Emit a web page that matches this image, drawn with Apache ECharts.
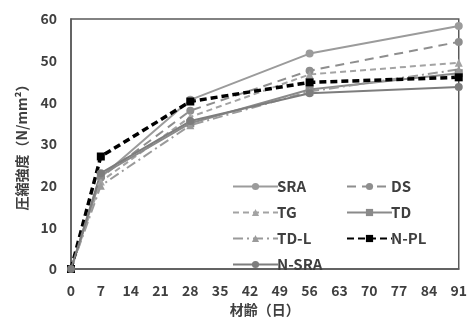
<!DOCTYPE html>
<html>
<head>
<meta charset="utf-8">
<script src="https://cdn.jsdelivr.net/npm/echarts@6/dist/echarts.min.js"></script>
<style>
  html, body { margin: 0; padding: 0; background: #fff; }
  #chart { width: 470px; height: 322px; }
</style>
</head>
<body>
<div id="chart"></div>
<script>
// 材齢（日）
const ages = [0, 7, 28, 56, 91];
const xTicks = [0, 7, 14, 21, 28, 35, 42, 49, 56, 63, 70, 77, 84, 91];

// 圧縮強度 (N/mm²)
const sra = [0, 22.0, 40.6, 51.7, 58.3];
const ds = [0, 22.0, 38.0, 47.6, 54.5];
const tg = [0, 21.0, 36.5, 46.7, 49.5];
const td = [0, 22.5, 35.0, 43.1, 47.0];
const tdl = [0, 20.0, 34.5, 42.6, 47.9];
const npl = [0, 27.0, 40.2, 44.8, 46.0];
const nsra = [0, 23.0, 35.5, 42.2, 43.7];

const FONT = '"Noto Sans CJK JP", "Noto Sans", sans-serif';
const TEXT = "#3f3f3f";
const AXIS = "#5a5a5a";

const pts = (vals) => ages.map((a, i) => [a, vals[i]]);

const mk = (name, vals, color, symbol, lineType, width) => ({
  name,
  type: "line",
  data: pts(vals),
  symbol,
  symbolSize: 8,
  showSymbol: true,
  itemStyle: { color },
  lineStyle: { color, width: width || 2, type: lineType },
  emphasis: { disabled: true },
  animation: false,
});

const chart = echarts.init(document.getElementById("chart"), null, { renderer: "canvas" });

const legendCommon = {
  orient: "vertical",
  itemWidth: 45,
  itemHeight: 9,
  itemGap: 11,
  selectedMode: false,
  textStyle: { fontFamily: FONT, fontSize: 15, fontWeight: "bold", color: TEXT, padding: [0, 0, 0, -6] },
};

chart.setOption({
  backgroundColor: "#fff",
  animation: false,
  grid: {
    left: 71, right: 8, top: 19, bottom: 50,
    show: true, borderColor: AXIS, borderWidth: 1.5,
  },
  legend: [
    { ...legendCommon, left: 227, top: 174, data: ["SRA", "TG", "TD-L", "N-SRA"] },
    { ...legendCommon, left: 341, top: 174, data: ["DS", "TD", "N-PL"] },
  ],
  xAxis: {
    type: "value",
    min: 0, max: 91, interval: 7,
    name: "材齢（日）",
    nameLocation: "middle",
    nameGap: 34,
    nameTextStyle: { fontFamily: FONT, fontSize: 14, fontWeight: "bold", color: TEXT },
    axisLine: { show: true, lineStyle: { color: AXIS, width: 1.5 } },
    axisTick: { show: false },
    splitLine: { show: false },
    axisLabel: {
      margin: 15,
      fontFamily: FONT, fontSize: 14, fontWeight: "bold", color: TEXT,
      formatter: (v) => (xTicks.includes(v) ? String(v) : ""),
    },
  },
  yAxis: {
    type: "value",
    min: 0, max: 60, interval: 10,
    name: "圧縮強度（N/mm²）",
    nameLocation: "middle",
    nameRotate: 90,
    nameGap: 42,
    nameTextStyle: { fontFamily: FONT, fontSize: 14, fontWeight: "bold", color: TEXT },
    axisLine: { show: true, lineStyle: { color: AXIS, width: 1.5 } },
    axisTick: { show: false },
    splitLine: { show: false },
    axisLabel: { margin: 14, fontFamily: FONT, fontSize: 14, fontWeight: "bold", color: TEXT },
  },
  series: [
    mk("SRA", sra, "#9b9b9b", "circle", "solid", 2),
    mk("DS", ds, "#8e8e8e", "circle", [9, 6], 2),
    mk("TG", tg, "#a3a3a3", "triangle", [6, 4], 2),
    mk("TD", td, "#8a8a8a", "rect", "solid", 2),
    mk("TD-L", tdl, "#9a9a9a", "triangle", [10, 4, 2, 4], 2),
    mk("N-PL", npl, "#000000", "rect", [7, 4], 3.5),
    mk("N-SRA", nsra, "#7d7d7d", "circle", "solid", 2),
  ],
});
</script>
</body>
</html>
